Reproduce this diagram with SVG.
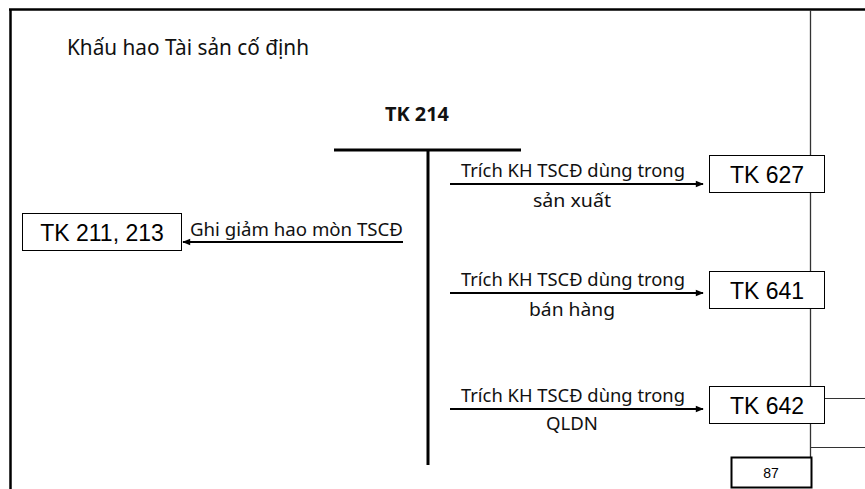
<svg xmlns="http://www.w3.org/2000/svg" width="865" height="489" viewBox="0 0 865 489">
  <defs>
    <marker id="arrow" viewBox="0 0 10 10" refX="9" refY="5" markerWidth="9" markerHeight="8" orient="auto-start-reverse" markerUnits="userSpaceOnUse">
      <path d="M0,1 L10,5 L0,9 Z" fill="#000"/>
    </marker>
    <style>
      .lbl { font-family: "Noto Sans", "Open Sans", sans-serif; font-size: 18px; fill: #111; }
      .box { fill: #fff; stroke: #000; stroke-width: 1; }
      .boxtxt { font-family: "Liberation Sans", Arial, sans-serif; font-size: 23px; fill: #000; text-anchor: middle; }
      .conn { stroke: #000; stroke-width: 2; fill: none; }
    </style>
  </defs>
  <rect width="865" height="489" fill="#fff"/>

  <!-- page frame -->
  <g id="frame">
    <line x1="9" y1="9.5" x2="865" y2="9.5" stroke="#000" stroke-width="2.5"/>
    <line x1="10.5" y1="9" x2="10.5" y2="489" stroke="#000" stroke-width="2.5"/>
    <line x1="810.5" y1="10" x2="810.5" y2="457" stroke="#333" stroke-width="1.3"/>
    <line x1="825" y1="398.5" x2="865" y2="398.5" stroke="#333" stroke-width="1"/>
    <line x1="810" y1="447.5" x2="865" y2="447.5" stroke="#333" stroke-width="1"/>
  </g>

  <text x="67" y="55" class="lbl" style="font-size:21px" textLength="242" lengthAdjust="spacingAndGlyphs">Khấu hao Tài sản cố định</text>

  <!-- T account -->
  <g id="tk214">
    <text x="417" y="121" class="lbl" style="font-weight:bold;font-size:19px" text-anchor="middle" textLength="64" lengthAdjust="spacingAndGlyphs">TK 214</text>
    <line x1="334" y1="150" x2="521" y2="150" stroke="#000" stroke-width="3"/>
    <line x1="428" y1="149" x2="428" y2="465" stroke="#000" stroke-width="3"/>
  </g>

  <g id="tk211">
    <rect x="22.5" y="213.5" width="159" height="37" class="box"/>
    <text x="102" y="241" class="boxtxt">TK 211, 213</text>
  </g>

  <g id="tk627">
    <rect x="709.5" y="155.5" width="115" height="37" class="box"/>
    <text x="767" y="182.5" class="boxtxt">TK 627</text>
  </g>

  <g id="tk641">
    <rect x="709.5" y="271.5" width="115" height="37" class="box"/>
    <text x="767" y="298.5" class="boxtxt">TK 641</text>
  </g>

  <g id="tk642">
    <rect x="709.5" y="386.5" width="115" height="37" class="box"/>
    <text x="767" y="413.5" class="boxtxt">TK 642</text>
  </g>

  <g id="page87">
    <rect x="731.5" y="457.5" width="80" height="30" fill="#fff" stroke="#000" stroke-width="2"/>
    <text x="771" y="477.5" class="boxtxt" style="font-size:14px">87</text>
  </g>

  <!-- entries -->
  <g id="connectors">
    <line x1="403" y1="242" x2="183" y2="242" class="conn" marker-end="url(#arrow)"/>
    <line x1="450" y1="184" x2="703" y2="184" class="conn" marker-end="url(#arrow)"/>
    <line x1="450" y1="293" x2="703" y2="293" class="conn" marker-end="url(#arrow)"/>
    <line x1="450" y1="409" x2="703" y2="409" class="conn" marker-end="url(#arrow)"/>
  </g>

  <g id="labels">
    <text x="190" y="236" class="lbl" textLength="213" lengthAdjust="spacingAndGlyphs">Ghi giảm hao mòn TSCĐ</text>
    <text x="461" y="177" class="lbl" textLength="224" lengthAdjust="spacingAndGlyphs">Trích KH TSCĐ dùng trong</text>
    <text x="572" y="207" class="lbl" text-anchor="middle" textLength="78" lengthAdjust="spacingAndGlyphs">sản xuất</text>
    <text x="461" y="286" class="lbl" textLength="224" lengthAdjust="spacingAndGlyphs">Trích KH TSCĐ dùng trong</text>
    <text x="572" y="316" class="lbl" text-anchor="middle" textLength="86" lengthAdjust="spacingAndGlyphs">bán hàng</text>
    <text x="461" y="402" class="lbl" textLength="224" lengthAdjust="spacingAndGlyphs">Trích KH TSCĐ dùng trong</text>
    <text x="572" y="430" class="lbl" text-anchor="middle" textLength="52" lengthAdjust="spacingAndGlyphs">QLDN</text>
  </g>
</svg>
